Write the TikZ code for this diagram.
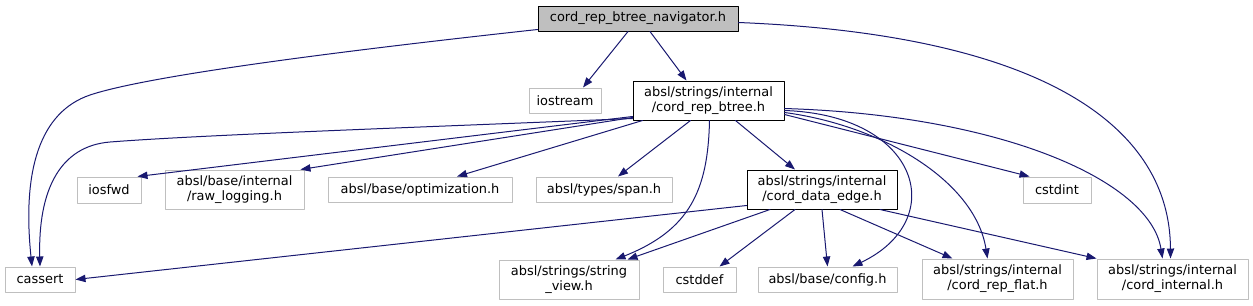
\documentclass[tikz,border=0pt]{standalone}
\usepackage{fontspec}
\setmainfont{DejaVu Sans}
\usetikzlibrary{arrows.meta,calc}
\definecolor{edgeblue}{HTML}{191970}
\definecolor{boxgray}{HTML}{BFBFBF}

\begin{document}
\begin{tikzpicture}[x=0.75pt, y=-0.75pt, line join=round, line cap=round,
		hfile/.style={draw=boxgray, line width=0.75pt, fill=white, inner sep=0pt, align=center, font=\fontsize{9.7}{11.25}\selectfont},
		hmain/.style={hfile, draw=black},
		sz/.style 2 args={minimum width=#1*0.75pt, minimum height=#2*0.75pt},
		inc/.style={draw=edgeblue, line width=0.75pt, -{Triangle[length=7.5pt, width=5.5pt]}}]
			% Khung ảnh (theo pixel)
			\useasboundingbox (0,0) rectangle (1253,305);
			
			% --- Tệp gốc ---
			\node[hmain, fill=boxgray, sz={200}{25}] (Nav) at (638, 18.5) {cord\_rep\_btree\_navigator.h};
			
			% Hàng 1
			\node[hfile, sz={72}{25}] (Iostream) at (565, 100.5) {iostream};
			\node[hmain, sz={151}{39}] (Btree) at (708.5, 100.5) {absl/strings/internal\\/cord\_rep\_btree.h};
			
			% Hàng 2
			\node[hfile, sz={64}{26}] (Iosfwd) at (109, 190) {iosfwd};
			\node[hfile, sz={139}{39}] (RawLog) at (234.5, 189.5) {absl/base/internal\\/raw\_logging.h};
			\node[hfile, sz={184}{25}] (Optim) at (420, 189.5) {absl/base/optimization.h};
			\node[hfile, sz={136}{25}] (Span) at (604, 189.5) {absl/types/span.h};
			\node[hmain, sz={150}{39}] (DataEdge) at (822, 189.5) {absl/strings/internal\\/cord\_data\_edge.h};
			\node[hfile, sz={68}{26}] (Cstdint) at (1057, 190) {cstdint};
			
			% Hàng 3 (Đáy)
			\node[hfile, sz={70}{25}] (Cassert) at (40, 279.5) {cassert};
			\node[hfile, sz={140}{39}] (StrView) at (569, 279.5) {absl/strings/string\\\_view.h};
			\node[hfile, sz={73}{25}] (Cstddef) at (699.5, 279.5) {cstddef};
			\node[hfile, sz={139}{25}] (Config) at (827.5, 279.5) {absl/base/config.h};
			\node[hfile, sz={151}{40}] (RepFlat) at (997.5, 279) {absl/strings/internal\\/cord\_rep\_flat.h};
			\node[hfile, sz={151}{40}] (Internal) at (1172.5, 279) {absl/strings/internal\\/cord\_internal.h};
			
			% --- Cạnh từ tệp gốc ---
			\draw[inc] ($(Nav.south)+(-10,0)$) -- ($(Iostream.north)+(18,0)$);
			\draw[inc] ($(Nav.south)+(12,0)$) -- ($(Btree.north)+(-22,0)$);
			\draw[inc] ($(Nav.south west)+(0,-2)$) .. controls (350,50) and (150,75) .. (90,95) .. controls (40,112) and (22,170) .. ($(Cassert.north)+(-8,0)$);
			\draw[inc] ($(Nav.east)+(0,4)$) .. controls (1050,35) and (1170,130) .. ($(Internal.north)+(-2,0)$);
			
			% --- Cạnh từ cord_rep_btree.h ---
			\draw[inc] ($(Btree.south west)+(0,-2)$) .. controls (400,128) and (200,135) .. (110,142) .. controls (60,146) and (38,190) .. (Cassert.north);
			\draw[inc] ($(Btree.south west)+(0,-4)$) -- ($(Iosfwd.north east)+(-4,0)$);
			\draw[inc] ($(Btree.south west)+(0,-3)$) -- ($(RawLog.north east)+(-4,0)$);
			\draw[inc] ($(Btree.south west)+(10,0)$) -- ($(Optim.north)+(37,0)$);
			\draw[inc] ($(Btree.south)+(-18,0)$) -- ($(Span.north)+(14,0)$);
			\draw[inc] ($(Btree.south)+(1,0)$) .. controls (708,190) and (690,230) .. ($(StrView.north east)+(-24,0)$);
			\draw[inc] ($(Btree.south)+(27,0)$) -- ($(DataEdge.north)+(-27,0)$);
			\draw[inc] ($(Btree.east)+(0,10)$) .. controls (920,115) and (950,220) .. ($(Config.north)+(25,0)$);
			\draw[inc] ($(Btree.east)+(0,12)$) .. controls (880,125) and (975,180) .. ($(RepFlat.north)+(-10,0)$);
			\draw[inc] ($(Btree.east)+(0,14)$) -- ($(Cstdint.north west)+(7,0)$);
			\draw[inc] ($(Btree.east)+(0,8)$) .. controls (1000,115) and (1150,180) .. ($(Internal.north)+(-10,0)$);
			
			% --- Cạnh từ cord_data_edge.h ---
			\draw[inc] ($(DataEdge.west)+(0,16)$) -- (Cassert.east);
			\draw[inc] ($(DataEdge.south)+(-52,0)$) -- ($(StrView.north east)+(-12,0)$);
			\draw[inc] ($(DataEdge.south)+(-27,0)$) -- ($(Cstddef.north)+(20,0)$);
			\draw[inc] (DataEdge.south) -- (Config.north);
			\draw[inc] ($(DataEdge.south)+(18,0)$) -- ($(RepFlat.north)+(-45,0)$);
			\draw[inc] ($(DataEdge.south)+(58,0)$) -- (Internal.north west);
			
		\end{tikzpicture}
\end{document}
